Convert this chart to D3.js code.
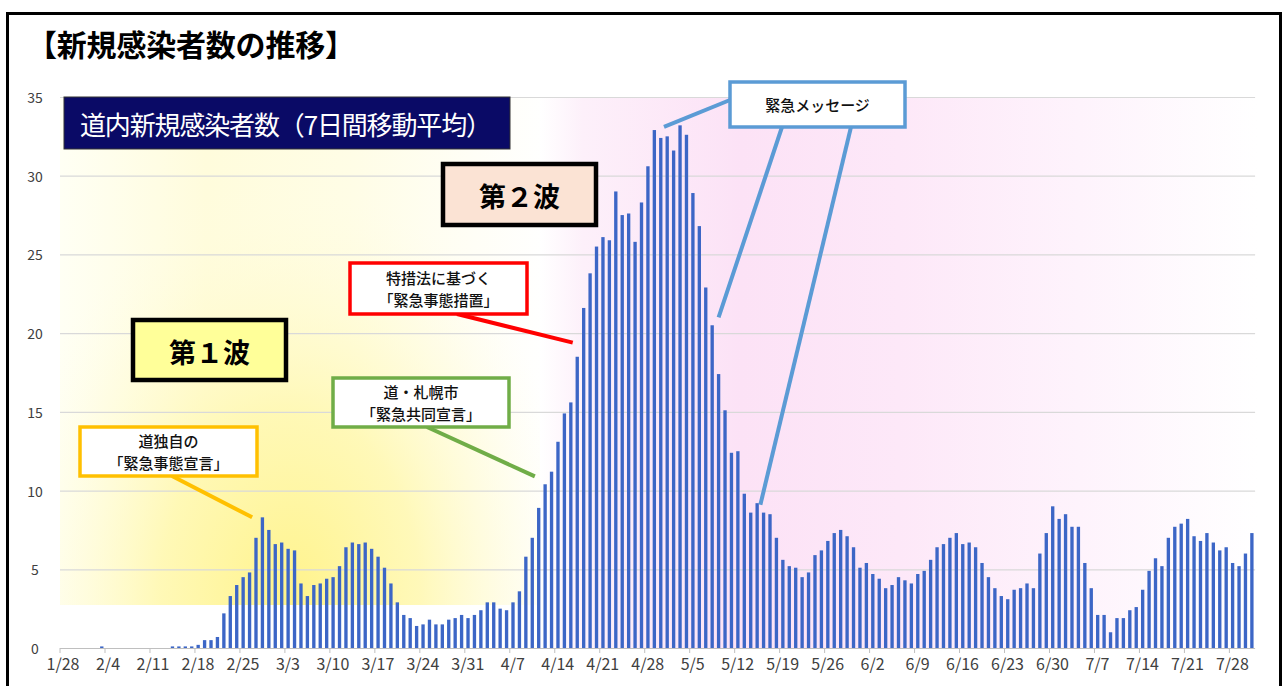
<!DOCTYPE html>
<html>
<head>
<meta charset="utf-8">
<script src="https://d3js.org/d3.v7.min.js"></script>
<style>
  body { margin: 0; background: #fff; }
  svg { display: block; }
</style>
</head>
<body>
<div id="chart"></div>
<script>
// 7-day moving average of new cases in Hokkaido, 1/28 - 8/1 (one bar per day)
const start_date = new Date(2020, 0, 28);
const end_date = new Date(2020, 7, 2);
const categories = d3.timeDay.range(start_date, end_date).map(d3.timeFormat('%-m/%-d'));

const case_values = [
  0, 0, 0, 0, 0, 0, 0,
  0.1, 0, 0, 0, 0, 0, 0,
  0, 0, 0, 0, 0.1, 0.1, 0.1,
  0.1, 0.2, 0.5, 0.5, 0.7, 2.2, 3.3,
  4.0, 4.5, 4.8, 7.0, 8.3, 7.5, 6.6,
  6.7, 6.3, 6.2, 4.1, 3.3, 4.0, 4.1,
  4.4, 4.5, 5.2, 6.4, 6.7, 6.6, 6.7,
  6.3, 5.8, 5.1, 4.1, 2.9, 2.1, 1.9,
  1.4, 1.5, 1.8, 1.5, 1.5, 1.8, 1.9,
  2.1, 1.9, 2.1, 2.4, 2.9, 2.9, 2.5,
  2.4, 2.9, 3.6, 5.8, 7.0, 8.9, 10.4,
  11.2, 13.1, 14.9, 15.6, 18.5, 21.6, 23.8,
  25.5, 26.1, 25.9, 29.0, 27.5, 27.6, 25.8,
  28.3, 30.6, 32.9, 32.4, 32.5, 31.6, 33.2,
  32.6, 28.9, 26.8, 22.9, 20.5, 17.4, 15.1,
  12.4, 12.5, 9.8, 8.6, 9.2, 8.6, 8.5,
  7.0, 5.6, 5.2, 5.1, 4.5, 4.8, 5.9,
  6.2, 6.8, 7.3, 7.5, 7.1, 6.4, 5.1,
  5.4, 4.7, 4.4, 3.8, 4.0, 4.5, 4.3,
  4.1, 4.7, 4.9, 5.6, 6.4, 6.6, 7.0,
  7.3, 6.6, 6.7, 6.4, 5.4, 4.5, 3.8,
  3.3, 3.1, 3.7, 3.8, 4.1, 3.8, 6.0,
  7.3, 9.0, 8.2, 8.5, 7.7, 7.7, 5.4,
  3.8, 2.1, 2.1, 1.0, 1.9, 1.9, 2.4,
  2.6, 3.7, 4.9, 5.7, 5.2, 7.0, 7.7,
  7.9, 8.2, 7.1, 6.8, 7.3, 6.7, 6.2,
  6.4, 5.4, 5.2, 6.0, 7.3
];

const tick_labels = ['1/28', '2/4', '2/11', '2/18', '2/25', '3/3', '3/10', '3/17', '3/24', '3/31',
  '4/7', '4/14', '4/21', '4/28', '5/5', '5/12', '5/19', '5/26', '6/2', '6/9', '6/16', '6/23',
  '6/30', '7/7', '7/14', '7/21', '7/28'];
const y_ticks = [0, 5, 10, 15, 20, 25, 30, 35];

const data = categories.map((c, i) => ({date: c, value: case_values[i]}));

const width = 1285, height = 686;
const plot = {left: 53.6, right: 1255.1, top: 97, bottom: 648, grid_left: 60};
const jp_font = '"Noto Sans CJK JP", "Noto Sans", sans-serif';

const svg = d3.select('#chart').append('svg')
  .attr('width', width).attr('height', height)
  .style('font-family', jp_font);

const x = d3.scaleBand().domain(categories)
  .range([plot.left, plot.right])
  .paddingInner(0.48).paddingOuter(0.24);
const y = d3.scaleLinear().domain([0, 35]).range([plot.bottom, plot.top]);

// position helper for annotation pointers (fractional day index)
const day_x = i => x(categories[0]) + x.bandwidth() / 2 + i * x.step();

// backgrounds
const defs = svg.append('defs');
const gradient = (type, id, attrs, stops) => {
  const g = defs.append(type).attr('id', id).attr('gradientUnits', 'userSpaceOnUse');
  Object.entries(attrs).forEach(([k, v]) => g.attr(k, v));
  stops.forEach(([o, c, a]) => g.append('stop').attr('offset', o).attr('stop-color', c)
    .attr('stop-opacity', a === undefined ? 1 : a));
};

gradient('linearGradient', 'yellow_base', {x1: 60, x2: 548, y1: 0, y2: 0},
  [[0, '#fffff4'], [0.3, '#fffcdc'], [0.6, '#fffde6'], [0.85, '#fffef6'], [1, '#ffffff']]);
gradient('radialGradient', 'yellow_glow',
  {cx: 290, cy: 600, r: 290, gradientTransform: 'translate(290,600) scale(1,1.45) translate(-290,-600)'},
  [[0, '#fff38a', 1], [0.45, '#fff7a8', 0.75], [0.8, '#fffbd0', 0.3], [1, '#fffde8', 0]]);
gradient('linearGradient', 'pink_glow', {x1: 540, x2: 1258, y1: 0, y2: 0},
  [[0, '#ffffff'], [0.06, '#fdf0fa'], [0.28, '#fce2f6'], [0.5, '#fde8f8'], [0.75, '#fef3fc'], [1, '#ffffff']]);

svg.append('rect').attr('x', 60).attr('y', plot.top).attr('width', 488).attr('height', 605 - plot.top)
  .attr('fill', 'url(#yellow_base)');
svg.append('rect').attr('x', 60).attr('y', plot.top).attr('width', 488).attr('height', 605 - plot.top)
  .attr('fill', 'url(#yellow_glow)');
svg.append('rect').attr('x', 540).attr('y', plot.top).attr('width', 718).attr('height', plot.bottom - plot.top)
  .attr('fill', 'url(#pink_glow)');

// outer frame
svg.append('rect').attr('x', 7.5).attr('y', 13.5).attr('width', 1273).attr('height', 700)
  .attr('fill', 'none').attr('stroke', '#000').attr('stroke-width', 3);

// title
svg.append('text').attr('x', 27).attr('y', 43)
  .attr('dominant-baseline', 'central')
  .attr('font-size', 30).attr('font-weight', 'bold').attr('fill', '#000')
  .attr('textLength', 328)
  .text('【新規感染者数の推移】');

// gridlines
svg.append('g').selectAll('line').data(y_ticks.filter(d => d > 0)).join('line')
  .attr('x1', plot.grid_left).attr('x2', plot.right)
  .attr('y1', d => y(d) + 0.5).attr('y2', d => y(d) + 0.5)
  .attr('stroke', '#d9d9d9').attr('stroke-width', 1.2);

// y labels
svg.append('g').selectAll('text').data(y_ticks).join('text')
  .attr('x', 35).attr('y', d => y(d))
  .attr('text-anchor', 'middle').attr('dominant-baseline', 'central')
  .attr('font-size', 14).attr('fill', '#404040')
  .text(d => d);

// bars
svg.append('g').selectAll('rect').data(data.filter(d => d.value > 0)).join('rect')
  .attr('x', d => x(d.date))
  .attr('width', x.bandwidth())
  .attr('y', d => y(d.value))
  .attr('height', d => y(0) - y(d.value))
  .attr('fill', '#3c66c6');

// x axis
svg.append('line').attr('x1', plot.grid_left).attr('x2', plot.right)
  .attr('y1', y(0) + 0.5).attr('y2', y(0) + 0.5)
  .attr('stroke', '#bfbfbf').attr('stroke-width', 1.2);

const x_axis = svg.append('g')
  .attr('transform', `translate(${x.step() / 2},${y(0)})`)
  .call(d3.axisBottom(x).tickValues(tick_labels).tickSize(5).tickPadding(6));
x_axis.select('.domain').remove();
x_axis.selectAll('.tick line').attr('stroke', '#bfbfbf');
x_axis.selectAll('.tick text')
  .attr('dx', 3)
  .attr('font-family', jp_font).attr('font-size', 16).attr('fill', '#404040');

// series title box
svg.append('rect').attr('x', 64).attr('y', 97).attr('width', 446).attr('height', 52)
  .attr('fill', '#0a0a66').attr('stroke', '#333').attr('stroke-width', 1);
svg.append('text').attr('x', 80).attr('y', 123)
  .attr('dominant-baseline', 'central')
  .attr('font-size', 26).attr('fill', '#fff')
  .attr('textLength', 412)
  .text('道内新規感染者数（7日間移動平均）');

// wave labels
const waves = [
  {text: '第１波', box: [133, 320, 153, 60], fill: '#ffff99'},
  {text: '第２波', box: [443, 164, 153, 61], fill: '#fbe3d4'},
];
waves.forEach(w => {
  const [bx, by, bw, bh] = w.box;
  svg.append('rect').attr('x', bx).attr('y', by).attr('width', bw).attr('height', bh)
    .attr('fill', w.fill).attr('stroke', '#000').attr('stroke-width', 4.5);
  svg.append('text').attr('x', bx + bw / 2).attr('y', by + bh / 2 + 1)
    .attr('text-anchor', 'middle').attr('dominant-baseline', 'central')
    .attr('font-size', 27).attr('font-weight', 'bold').attr('fill', '#000')
    .text(w.text);
});

// callouts: box in pixels, pointers from box edge to [day index, value]
const callouts = [
  {lines: ['道独自の', '「緊急事態宣言」'], box: [80, 427, 177, 49], color: '#ffc000',
   pointers: [{from: [172, 476], to: [30.4, 8.3]}]},
  {lines: ['道・札幌市', '「緊急共同宣言」'], box: [333, 378, 176, 49], color: '#70ad47',
   pointers: [{from: [427, 427], to: [74.4, 10.9]}]},
  {lines: ['特措法に基づく', '「緊急事態措置」'], box: [350, 263, 177, 51], color: '#ff0000',
   pointers: [{from: [457, 314], to: [80.3, 19.4]}]},
  {lines: ['緊急メッセージ'], box: [730, 82, 175, 45], color: '#5b9bd5',
   pointers: [
     {from: [730, 100], to: [94.5, 33.1]},
     {from: [782, 127], to: [103.0, 21.0]},
     {from: [851, 127], to: [109.5, 9.1]},
   ]},
];

callouts.forEach(c => {
  c.pointers.forEach(p => {
    svg.append('line')
      .attr('x1', p.from[0]).attr('y1', p.from[1])
      .attr('x2', day_x(p.to[0])).attr('y2', y(p.to[1]))
      .attr('stroke', c.color).attr('stroke-width', 4);
  });
});

callouts.forEach(c => {
  const [bx, by, bw, bh] = c.box;
  svg.append('rect').attr('x', bx).attr('y', by).attr('width', bw).attr('height', bh)
    .attr('fill', '#fff').attr('stroke', c.color).attr('stroke-width', 3.5);
  const line_h = 22;
  const y0 = by + bh / 2 - (c.lines.length - 1) * line_h / 2;
  svg.append('g').selectAll('text').data(c.lines).join('text')
    .attr('x', bx + bw / 2).attr('y', (d, i) => y0 + i * line_h)
    .attr('text-anchor', 'middle').attr('dominant-baseline', 'central')
    .attr('font-size', 15).attr('font-weight', 500).attr('fill', '#111')
    .text(d => d);
});
</script>
</body>
</html>
